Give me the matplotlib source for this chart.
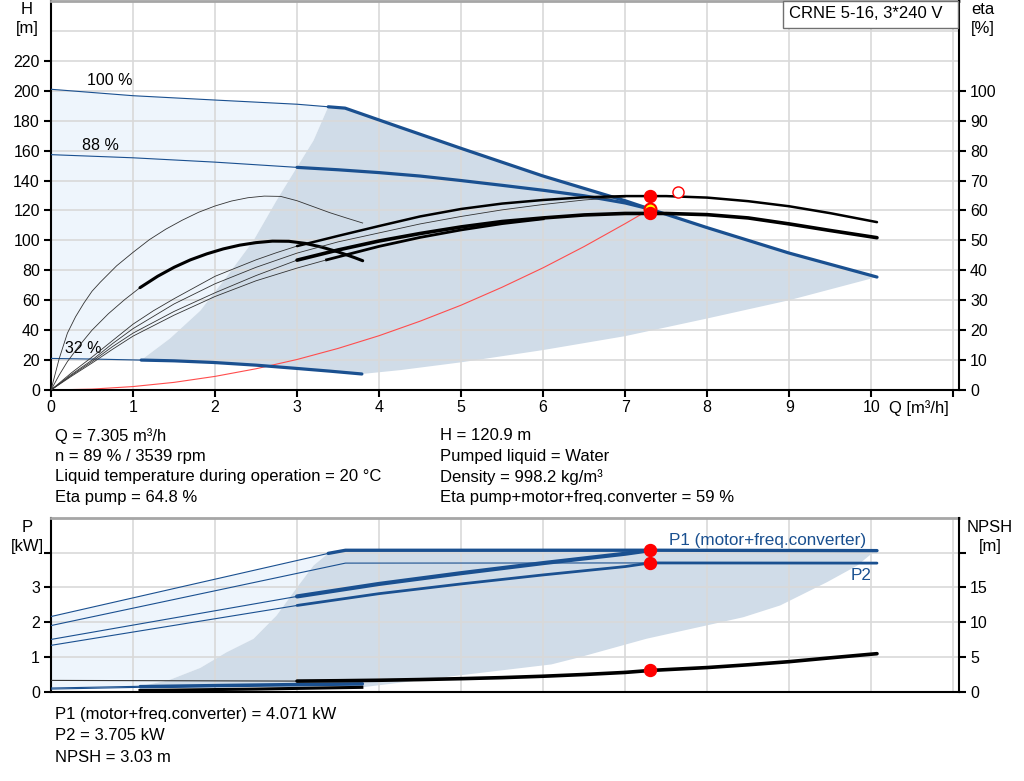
import matplotlib.pyplot as plt
from matplotlib.patches import Rectangle

plt.rcParams['font.family'] = ['Liberation Sans', 'DejaVu Sans']
plt.rcParams['font.size'] = 12

BLUE = '#1a5090'
LIGHT = '#eef5fc'
SHADE = '#d0dce8'
GRID = '#d9d9d9'
SPINE = '#a6a6a6'
TICK_FS = 11.5

# ---------------- head curves H [m] ----------------
q_100_thin = [0, 1, 2, 3, 3.38]
h_100_thin = [201, 196.7, 193.8, 191, 189.3]
q_100 = [3.38, 3.585, 4.26, 5, 6, 7, 7.305, 8, 9, 10.07]
h_100 = [189.3, 188.4, 175.5, 161.5, 143, 126.5, 120.9, 108.5, 91.5, 75.5]

q_88_thin = [0, 1, 2, 3]
h_88_thin = [157.3, 155.2, 152.3, 148.8]
q_88 = [3, 3.5, 4, 4.5, 5, 5.5, 6, 6.5, 7, 7.305]
h_88 = [148.8, 147.2, 145.3, 143, 140, 136.8, 133.5, 129.8, 125, 120.9]

q_32_thin = [0, 0.5, 1.1]
h_32_thin = [21.1, 20.7, 20]
q_32 = [1.1, 1.5, 1.98, 2.5, 3, 3.4, 3.79]
h_32 = [20, 19.5, 18.4, 16.6, 14.4, 12.6, 10.7]

# borders of the operating area
q_edge = [1.1, 1.45, 1.82, 2.14, 2.47, 2.75, 3.0, 3.2, 3.38]
h_edge = [20, 34.4, 53, 75.6, 100, 126.7, 149, 166.7, 189.3]
q_low = [3.79, 4.26, 5, 6, 7, 8, 9, 10.07]
h_low = [10.7, 13.3, 18.5, 26.7, 36, 47.8, 60, 75.5]

# system curve
q_sys = [0, 0.5, 1, 1.5, 2, 2.5, 3, 3.5, 4, 4.5, 5, 5.5, 6, 6.5, 7, 7.305]
h_sys = [0, 0.6, 2.3, 5.1, 9.1, 14.2, 20.4, 27.8, 36.3, 46, 56.7, 68.7, 81.7, 95.9, 111.2, 120.9]

# ---------------- efficiency curves eta [%] ----------------
q_eta_a = [0, 0.1, 0.2, 0.3, 0.4, 0.5, 0.6, 0.8, 1.0, 1.2, 1.4, 1.6, 1.8, 2.0,
           2.2, 2.4, 2.6, 2.8, 3.0, 3.2, 3.4, 3.6, 3.8]
eta_a = [0, 10.5, 19, 24.5, 29, 33, 36, 41.5, 46, 50.25, 53.75, 56.75, 59.4, 61.5,
         63.15, 64.25, 64.8, 64.7, 63.25, 61.25, 59.25, 57.5, 55.8]

q_eta_b_thin = [0, 0.1, 0.2, 0.35, 0.5, 0.7, 0.9, 1.085]
eta_b_thin = [0, 5, 9.5, 15, 20, 25.5, 30.25, 34.2]
q_eta_b = [1.085, 1.3, 1.5, 1.7, 1.9, 2.1, 2.3, 2.5, 2.7, 2.9, 3.1, 3.3, 3.5, 3.7, 3.8]
eta_b = [34.2, 38, 41, 43.5, 45.5, 47.15, 48.4, 49.25, 49.75, 49.7, 49, 47.75, 46.15, 44.25, 43.2]

q_eta_u_thin = [0, 0.25, 0.5, 0.75, 1, 1.25, 1.5, 1.75, 2, 2.25, 2.5, 2.75, 3]
eta_u_thin = [0, 5.75, 11, 16.5, 22, 26.5, 30.5, 34.25, 38, 40.75, 43.5, 45.9, 48.1]
q_eta_u = [3, 3.5, 4, 4.5, 5, 5.5, 6, 6.5, 7, 7.5, 8, 8.5, 9, 9.5, 10.07]
eta_u = [48.1, 51.5, 54.8, 58, 60.5, 62.3, 63.5, 64.4, 64.8, 64.8, 64.3, 63.1, 61.4, 59.1, 56.1]

q_eta_u2 = [0, 0.25, 0.5, 0.75, 1, 1.5, 2, 2.5, 3, 3.5, 4, 4.5, 5, 5.5, 6, 6.5, 7]
eta_u2 = [0, 5.2, 10, 15.5, 20.5, 28.75, 35.5, 41, 45.75, 49.5, 52.5, 55.5, 58, 60.2, 62, 63.5, 64.5]

q_eta_l_thin = [0, 0.25, 0.5, 0.75, 1, 1.5, 2, 2.5, 3]
eta_l_thin = [0, 4.9, 9.5, 14.5, 19, 26.25, 32.5, 38.25, 43.4]
q_eta_l = [3, 3.5, 4, 4.5, 5, 5.5, 6, 6.5, 7, 7.305, 7.5, 8, 8.5, 9, 9.5, 10.07]
eta_l = [43.4, 46.8, 49.8, 52.3, 54.5, 56.3, 57.5, 58.5, 59, 59, 59, 58.6, 57.5, 55.5, 53.3, 50.9]

q_eta_l2_thin = [0, 0.25, 0.5, 0.75, 1, 1.5, 2, 2.5, 3, 3.36]
eta_l2_thin = [0, 4.6, 9, 13.6, 18, 25, 31.25, 36.5, 40.75, 43.5]
q_eta_l2 = [3.36, 4, 4.5, 5, 5.5, 6]
eta_l2 = [43.5, 48, 51, 53.5, 55.6, 57.2]

# duty point
q_op = 7.305
h_op = 120.9
eta_pump_op = 64.8
eta_tot_op = 59
q_best = 7.65
eta_best = 66.1

# ---------------- power curves P [kW] ----------------
q_p1max_thin = [0, 3.38]
p_p1max_thin = [2.16, 3.98]
q_p1max = [3.38, 3.59, 5, 7.305, 10.07]
p_p1max = [3.98, 4.07, 4.07, 4.071, 4.06]

q_p2max_thin = [0, 3.59, 7.305]
p_p2max_thin = [1.9, 3.7, 3.705]
q_p2max = [7.305, 10.07]
p_p2max = [3.705, 3.7]

q_p1op_thin = [0, 3]
p_p1op_thin = [1.5, 2.74]
q_p1op = [3, 4, 5, 6, 7, 7.305]
p_p1op = [2.74, 3.1, 3.41, 3.7, 3.97, 4.071]

q_p2op_thin = [0, 3]
p_p2op_thin = [1.33, 2.48]
q_p2op = [3, 4, 5, 6, 7, 7.305]
p_p2op = [2.48, 2.82, 3.1, 3.36, 3.6, 3.705]

q_p1_32_thin = [0, 1.085]
p_p1_32_thin = [0.1, 0.15]
q_p1_32 = [1.085, 2, 3, 3.8]
p_p1_32 = [0.15, 0.18, 0.21, 0.23]
q_p2_32_thin = [0, 1.085]
p_p2_32_thin = [0.07, 0.12]
q_p2_32 = [1.085, 2, 3, 3.8]
p_p2_32 = [0.12, 0.15, 0.18, 0.2]

q_pedge = [1.085, 1.43, 1.82, 2.14, 2.47, 2.75, 3.0, 3.2, 3.38]
p_pedge = [0.15, 0.32, 0.68, 1.13, 1.52, 2.19, 3.0, 3.63, 3.98]
q_pright = [10.05, 9.83, 9.46, 8.89, 8.44, 8.08, 7.26, 6.45, 6.1, 5, 3.79]
p_pright = [4.06, 3.63, 3.15, 2.48, 2.14, 1.95, 1.52, 0.99, 0.78, 0.47, 0.12]

# NPSH [m]
q_npsh_thin = [0, 1.5, 3]
npsh_thin = [1.6, 1.55, 1.5]
q_npsh = [3, 3.5, 4, 4.5, 5, 5.5, 6, 6.5, 7, 7.305, 7.5, 8, 8.5, 9, 9.5, 10.07]
npsh = [1.5, 1.55, 1.62, 1.72, 1.85, 2.0, 2.2, 2.45, 2.75, 3.03, 3.15, 3.45, 3.85, 4.3, 4.85, 5.45]
q_npsh_32 = [1.085, 2.5, 3.79]
npsh_32 = [0.15, 0.35, 0.6]
p1_op = 4.071
p2_op = 3.705
npsh_op = 3.03

W, H = 1024, 781
fig = plt.figure(figsize=(W / 100, H / 100), dpi=100)


def rect(l, t, r, b):
    return [l / W, 1 - b / H, (r - l) / W, (b - t) / H]


def ftext(x, y, s, **kw):
    fig.text(x / W, 1 - y / H, s, va='center', **kw)


def style(a, tw):
    a.set_axisbelow(True)
    a.grid(True, color=GRID, lw=1.2)
    for side in ['left', 'bottom']:
        a.spines[side].set_linewidth(1.5)
    a.spines['top'].set_color(SPINE)
    a.spines['top'].set_linewidth(2)
    a.spines['right'].set_visible(False)
    tw.spines['right'].set_linewidth(1.5)
    for side in ['left', 'bottom', 'top']:
        tw.spines[side].set_visible(False)
    a.tick_params(axis='y', direction='out', length=5, width=1.5, pad=3, labelsize=TICK_FS)
    tw.tick_params(axis='y', direction='out', length=5, width=1.5, pad=3, labelsize=TICK_FS)


# ================= top chart =================
ax = fig.add_axes(rect(51, 1, 959, 390))
ax.set_xlim(0, 11.07)
ax.set_ylim(0, 260)
ax2 = ax.twinx()
ax2.set_ylim(0, 130)
style(ax, ax2)
ax.set_xticks(range(12))
ax.set_xticklabels([str(i) for i in range(11)] + [''])
ax.tick_params(axis='x', direction='out', length=5, width=1.5, pad=2, labelsize=TICK_FS)
ax.set_yticks(range(0, 221, 20))
ax.axhline(240, color=GRID, lw=1.2, zorder=0.5)
ax2.set_yticks(range(0, 101, 10))

light_q = q_100_thin + q_edge[::-1] + q_32_thin[::-1]
light_h = h_100_thin + h_edge[::-1] + h_32_thin[::-1]
ax.fill(light_q, light_h, color=LIGHT, lw=0, zorder=0.2)
dark_q = q_edge + q_100 + q_low[::-1] + q_32[::-1]
dark_h = h_edge + h_100 + h_low[::-1] + h_32[::-1]
ax.fill(dark_q, dark_h, color=SHADE, lw=0, zorder=0.2)

ax.plot(q_sys, h_sys, color='#ff4d4d', lw=0.8, zorder=2)
for qt, ht, qk, hk in [(q_100_thin, h_100_thin, q_100, h_100),
                       (q_88_thin, h_88_thin, q_88, h_88),
                       (q_32_thin, h_32_thin, q_32, h_32)]:
    ax.plot(qt, ht, color=BLUE, lw=0.8, zorder=3)
    ax.plot(qk, hk, color=BLUE, lw=2.3, zorder=3, solid_capstyle='round')

ax.text(0.44, 206.7, '100 %', va='center', fontsize=TICK_FS)
ax.text(0.38, 163.3, '88 %', va='center', fontsize=TICK_FS)
ax.text(0.17, 28, '32 %', va='center', fontsize=TICK_FS)

thin_k = dict(color='#333333', lw=0.6, zorder=2)
ax2.plot(q_eta_a, eta_a, **thin_k)
ax2.plot(q_eta_b_thin, eta_b_thin, **thin_k)
ax2.plot(q_eta_b, eta_b, color='black', lw=2.2, solid_capstyle='round')
ax2.plot(q_eta_u2, eta_u2, **thin_k)
ax2.plot(q_eta_l2_thin, eta_l2_thin, **thin_k)
ax2.plot(q_eta_l2, eta_l2, color='black', lw=2.0)
ax2.plot(q_eta_u_thin, eta_u_thin, **thin_k)
ax2.plot(q_eta_u, eta_u, color='black', lw=1.8, solid_capstyle='round')
ax2.plot(q_eta_l_thin, eta_l_thin, **thin_k)
ax2.plot(q_eta_l, eta_l, color='black', lw=2.6, solid_capstyle='round')

ax2.plot(q_best, eta_best, 'o', ms=8, mfc='white', mec='red', mew=1)
ax2.plot(q_op, eta_pump_op, 'o', ms=8.6, color='red')
ax2.plot(q_op, h_op / 2, 'o', ms=8.6, mfc='yellow', mec='red', mew=1.5)
ax2.plot(q_op, eta_tot_op, 'o', ms=8.6, color='red')

ftext(27, 10, 'H', ha='center')
ftext(27, 28, '[m]', ha='center')
ftext(983, 10, 'eta', ha='center')
ftext(983, 28, '[%]', ha='center')
ftext(919, 408, 'Q [m³/h]', ha='center')
fig.add_artist(Rectangle((783 / W, 1 - 28 / H), 175 / W, 27 / H,
                         transform=fig.transFigure, facecolor='white',
                         edgecolor='#707070', lw=1))
ftext(789, 14, 'CRNE 5-16, 3*240 V', ha='left')

col1 = ['Q = 7.305 m³/h', 'n = 89 % / 3539 rpm',
        'Liquid temperature during operation = 20 °C', 'Eta pump = 64.8 %']
col2 = ['H = 120.9 m', 'Pumped liquid = Water', 'Density = 998.2 kg/m³',
        'Eta pump+motor+freq.converter = 59 %']
for i, (a, b) in enumerate(zip(col1, col2)):
    ftext(55, 436 + i * 20.5, a, ha='left')
    ftext(440, 436 + i * 20.5, b, ha='left')

# ================= power chart =================
axp = fig.add_axes(rect(51, 518, 959, 691.5))
axp.set_xlim(0, 11.07)
axp.set_ylim(0, 5)
axn = axp.twinx()
axn.set_ylim(0, 25)
style(axp, axn)
axp.set_xticks(range(12))
axp.tick_params(axis='x', length=0, labelbottom=False)
axp.set_yticks(range(5))
axp.set_yticklabels(['0', '1', '2', '3', ''])
axn.set_yticks([0, 5, 10, 15, 20])
axn.set_yticklabels(['0', '5', '10', '15', ''])

plight_q = q_p1max_thin + q_pedge[::-1] + q_p1_32_thin[::-1]
plight_p = p_p1max_thin + p_pedge[::-1] + p_p1_32_thin[::-1]
axp.fill(plight_q, plight_p, color=LIGHT, lw=0, zorder=0.2)
pdark_q = q_pedge + q_p1max + q_pright
pdark_p = p_pedge + p_p1max + p_pright
axp.fill(pdark_q, pdark_p, color=SHADE, lw=0, zorder=0.2)

for qt, pt, qk, pk, lk in [(q_p1max_thin, p_p1max_thin, q_p1max, p_p1max, 2.4),
                           (q_p2max_thin, p_p2max_thin, q_p2max, p_p2max, 2.0),
                           (q_p1op_thin, p_p1op_thin, q_p1op, p_p1op, 3.0),
                           (q_p2op_thin, p_p2op_thin, q_p2op, p_p2op, 2.0),
                           (q_p1_32_thin, p_p1_32_thin, q_p1_32, p_p1_32, 2.0),
                           (q_p2_32_thin, p_p2_32_thin, q_p2_32, p_p2_32, 1.6)]:
    axp.plot(qt, pt, color=BLUE, lw=0.8, zorder=3)
    axp.plot(qk, pk, color=BLUE, lw=lk, zorder=3, solid_capstyle='round')

axn.plot(q_npsh_thin, npsh_thin, color='#333333', lw=0.8)
axn.plot(q_npsh, npsh, color='black', lw=2.6, solid_capstyle='round')
axn.plot(q_npsh_32, npsh_32, color='black', lw=2.2)
axn.plot(q_op, p1_op * 5, 'o', ms=8.6, color='red')
axn.plot(q_op, p2_op * 5, 'o', ms=8.6, color='red')
axn.plot(q_op, npsh_op, 'o', ms=8.6, color='red')

ftext(27, 527, 'P', ha='center')
ftext(27, 546, '[kW]', ha='center')
ftext(990, 528, 'NPSH', ha='center')
ftext(990, 547, '[m]', ha='center')
ftext(669, 540, 'P1 (motor+freq.converter)', ha='left', color=BLUE, fontsize=12.3)
ftext(851, 575, 'P2', ha='left', color=BLUE, fontsize=12.3)

for i, s in enumerate(['P1 (motor+freq.converter) = 4.071 kW',
                       'P2 = 3.705 kW', 'NPSH = 3.03 m']):
    ftext(55, 714 + i * 21.5, s, ha='left')

fig.savefig('out.png', dpi=100)
